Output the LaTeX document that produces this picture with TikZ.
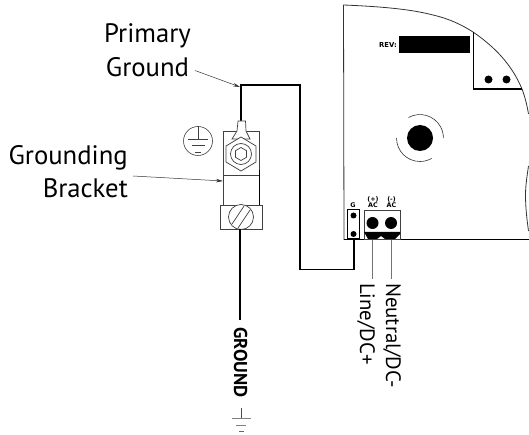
\documentclass[tikz,border=0pt]{standalone}
\usepackage{fontspec}
\usetikzlibrary{arrows.meta}
\setmainfont{PT Sans}
\newfontfamily\smallbold{DejaVu Sans}[Scale=1]
\begin{document}
\begin{tikzpicture}[x=1pt,y=-1pt,
  lbl/.style={font=\fontsize{26.7}{27}\selectfont,inner sep=0pt},
  rlbl/.style={font=\fontsize{20.8}{22}\selectfont,inner sep=0pt,rotate=-90,anchor=base west,text=black},
  tiny/.style={font=\smallbold\bfseries\fontsize{6.4}{6.2}\selectfont,inner sep=0pt,align=center},
  wire/.style={draw=black,line width=1.6pt,line join=miter},
  part/.style={draw=black!75,line width=0.7pt},
  board/.style={draw=black!80,line width=0.8pt},
  leader/.style={draw=black!80,line width=0.5pt,-{Stealth[length=7pt,width=3.5pt]}}]
\useasboundingbox (0,0) rectangle (529,435);
% board
\path[board] (344,240) -- (343.5,5) .. controls (380,6.5) and (410,9) .. (433,15) .. controls (450,19) and (462,25) .. (473,32) .. controls (495,47) and (512,65) .. (522,89) .. controls (525,97) and (527,105) .. (528.5,114);
\path[board] (528.5,166) .. controls (527,176) and (525.5,186) .. (525.5,195) .. controls (525.5,208) and (527,220) .. (528.5,231);
\draw[black,line width=1.2pt] (344,239.3) -- (529,239.3);
\draw[black,line width=1.3pt] (473.5,32) -- (473.5,89) -- (522,89);
\fill (488.5,79.5) circle (4);
\fill (506.5,79.5) circle (4);
\fill (399,36) rectangle (470,53);
\node[tiny,font=\smallbold\bfseries\fontsize{6.8}{7}\selectfont] (rev) at (388,45) {REV:};
\fill (420,138) circle (13);
\draw[black!80,line width=0.6pt] (408.5,117.5) arc (-119:0:23.5);
\draw[black!80,line width=0.6pt] (396.5,138) arc (-180:-300:23.5);
% terminal
\draw[part,fill=white] (364,210) rectangle (400,239);
\fill (364,232) -- (400,232) -- (400,234) -- (395,239) -- (385,239) -- (381,236) -- (377,239) -- (368,239) -- cycle;
\fill (372.5,223) circle (6);
\fill (391,223) circle (6);
\node[tiny] (ac1) at (373,202.5) {(+)\\AC};
\node[tiny] (ac2) at (391.5,202.5) {(-)\\AC};
\draw[black,line width=1pt,fill=white] (347.5,210) rectangle (359,238.5);
\fill (353.5,215.5) circle (3);
\fill (353.5,234) circle (3);
\node[tiny] (g) at (353,205) {G};
\draw[black!55,line width=1pt] (372.5,240) -- (372.5,279);
\draw[black!55,line width=1pt] (391,240) -- (391,279);
% ground wire
\coordinate (gw) at (354,239);
\coordinate (lugtop) at (241,122);
\draw[wire] (gw) -- (354,269.5) -- (300,269.5) -- (300,85) -- (241,85) -- (lugtop);
% bracket
\draw[part] (223,131) rectangle (259.5,175);
\draw[part] (223,175) -- (223,205);
\draw[black,line width=1.1pt] (259.5,170) -- (259.5,205);
\draw[part,fill=white] (220,205) rectangle (262,229);
\draw[part,fill=white] (241,217) circle (12.5);
\draw[part] (232,224) -- (244,206);
\draw[part] (238,228) -- (250,210);
% lug
\draw[part,fill=white] (238,121) -- (245.5,121) -- (246,131) -- (250,139) -- (232,139) -- (237,131) -- cycle;
\draw[part,fill=white] (241,137) -- (256,146) -- (256,162) -- (241,171) -- (226,162) -- (226,146) -- cycle;
\draw[part] (241,154) circle (10.5);
\draw[part] (241,147.5) -- (246.5,150.7) -- (246.5,157.3) -- (241,160.5) -- (235.5,157.3) -- (235.5,150.7) -- cycle;
% earth symbol
\draw[black!75,line width=0.6pt] (198,141) circle (14.5);
\draw[black!75,line width=0.6pt] (198,126.5) -- (198,139);
\draw[black!75,line width=0.6pt] (188,139.5) -- (208,139.5);
\draw[black!75,line width=0.6pt] (191.5,145.5) -- (204.5,145.5);
\draw[black!75,line width=0.6pt] (195,152) -- (201,152);
% lower wire
\draw[wire] (240,229) -- (240,320);
\node[inner sep=0pt,rotate=-90,anchor=base,font=\fontsize{18.6}{19}\selectfont\bfseries] (gtxt) at (234,362.5) {GROUND};
\draw[black!70,line width=0.6pt] (241,408) -- (241,418);
\draw[black!50,line width=1pt] (232,418) -- (251,418);
\draw[black!50,line width=1pt] (236,425) -- (246,425);
\draw[black!60,line width=0.8pt] (239,431.5) -- (244,431.5);
% labels
\node[lbl,anchor=base] (prim) at (147.5,43) {Primary};
\node[lbl,anchor=base] (grd) at (147.5,77) {Ground};
\node[lbl,anchor=base east] (grounding) at (128,165) {Grounding};
\node[lbl,anchor=base east] (bracket) at (128,198) {Bracket};
\node[rlbl] (line) at (360,283) {Line/DC+};
\node[rlbl] (neut) at (386,283) {Neutral/DC-};
\coordinate (a1) at (195,70.5);
\coordinate (a2) at (240,87);
\coordinate (b1) at (133,176);
\coordinate (b2) at (223,181);
\draw[leader] (a1) -- (a2);
\draw[leader] (b1) -- (b2);
\end{tikzpicture}
\end{document}
